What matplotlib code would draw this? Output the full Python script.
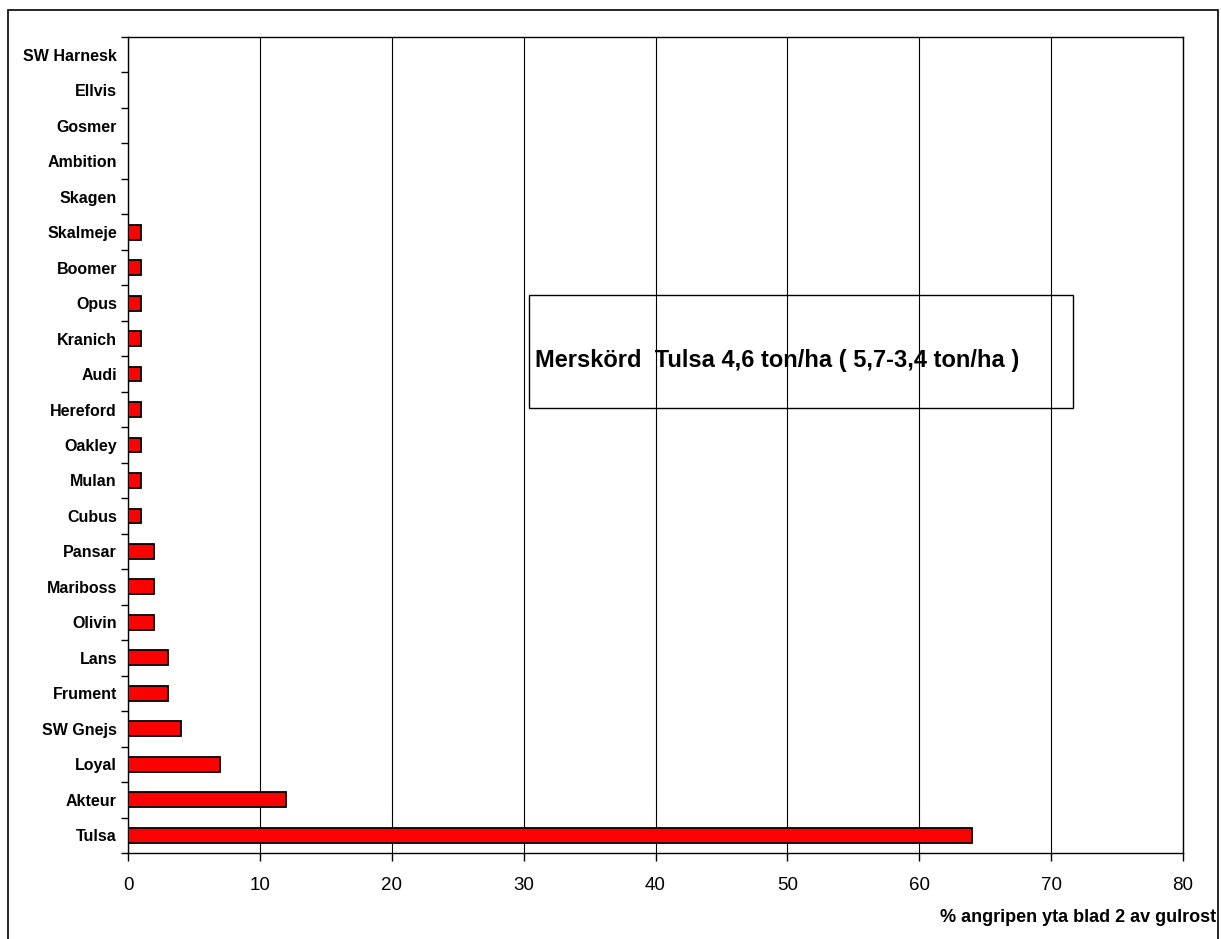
import matplotlib.pyplot as plt
from matplotlib.patches import Rectangle
import numpy as np

# Data (bottom to top)
varieties = ['Tulsa', 'Akteur', 'Loyal', 'SW Gnejs', 'Frument', 'Lans', 'Olivin',
             'Mariboss', 'Pansar', 'Cubus', 'Mulan', 'Oakley', 'Hereford', 'Audi',
             'Kranich', 'Opus', 'Boomer', 'Skalmeje', 'Skagen', 'Ambition',
             'Gosmer', 'Ellvis', 'SW Harnesk']
attack = [64, 12, 7, 4, 3, 3, 2, 2, 2, 1, 1, 1, 1, 1, 1, 1, 1, 1, 0, 0, 0, 0, 0]
x_ticks = [0, 10, 20, 30, 40, 50, 60, 70, 80]

plt.rcParams['font.family'] = ['Liberation Sans', 'DejaVu Sans']

fig = plt.figure(figsize=(12.21, 9.39), dpi=100)
ax = fig.add_axes([128 / 1221, 1 - 853 / 939, 1055 / 1221, 816 / 939])

# outer frame around the whole chart
fig.patches.append(Rectangle((8 / 1221, -0.01), 1210 / 1221, 1 - 10 / 939 + 0.01,
                             transform=fig.transFigure, fill=False,
                             edgecolor='black', linewidth=1.2))

y = np.arange(len(varieties))
ax.barh(y, attack, height=0.42, color='#ff0000', edgecolor='black',
        linewidth=1.3, zorder=3)

ax.set_xlim(0, 80)
ax.set_ylim(-0.5, len(varieties) - 0.5)
ax.set_xticks(x_ticks)
ax.set_xticklabels([str(t) for t in x_ticks], fontsize=13.5)
ax.xaxis.grid(True, color='black', linewidth=0.8, zorder=0)

ax.set_yticks(y)
ax.set_yticklabels(varieties, fontsize=11.5, fontweight='bold')
ax.set_yticks(np.arange(len(varieties) + 1) - 0.5, minor=True)
ax.tick_params(axis='y', which='major', length=0, pad=8)
ax.tick_params(axis='y', which='minor', length=5, width=1, direction='out')
ax.tick_params(axis='x', length=6, width=1, direction='out', pad=11)

for s in ax.spines.values():
    s.set_linewidth(1.0)

# annotation box
ax.add_patch(Rectangle((0.380, 0.5453), 0.5157, 0.1385, transform=ax.transAxes,
                       fill=False, edgecolor='black', linewidth=1.0, zorder=4))
ax.text(0.386, 0.604, 'Merskörd  Tulsa 4,6 ton/ha ( 5,7-3,4 ton/ha )',
        transform=ax.transAxes, fontsize=17, fontweight='bold',
        ha='left', va='center', zorder=5)

fig.text(0.996, 1 - 918 / 939, '% angripen yta blad 2 av gulrost',
         fontsize=13, fontweight='bold', ha='right', va='center')

fig.savefig('out.png', dpi=100)
